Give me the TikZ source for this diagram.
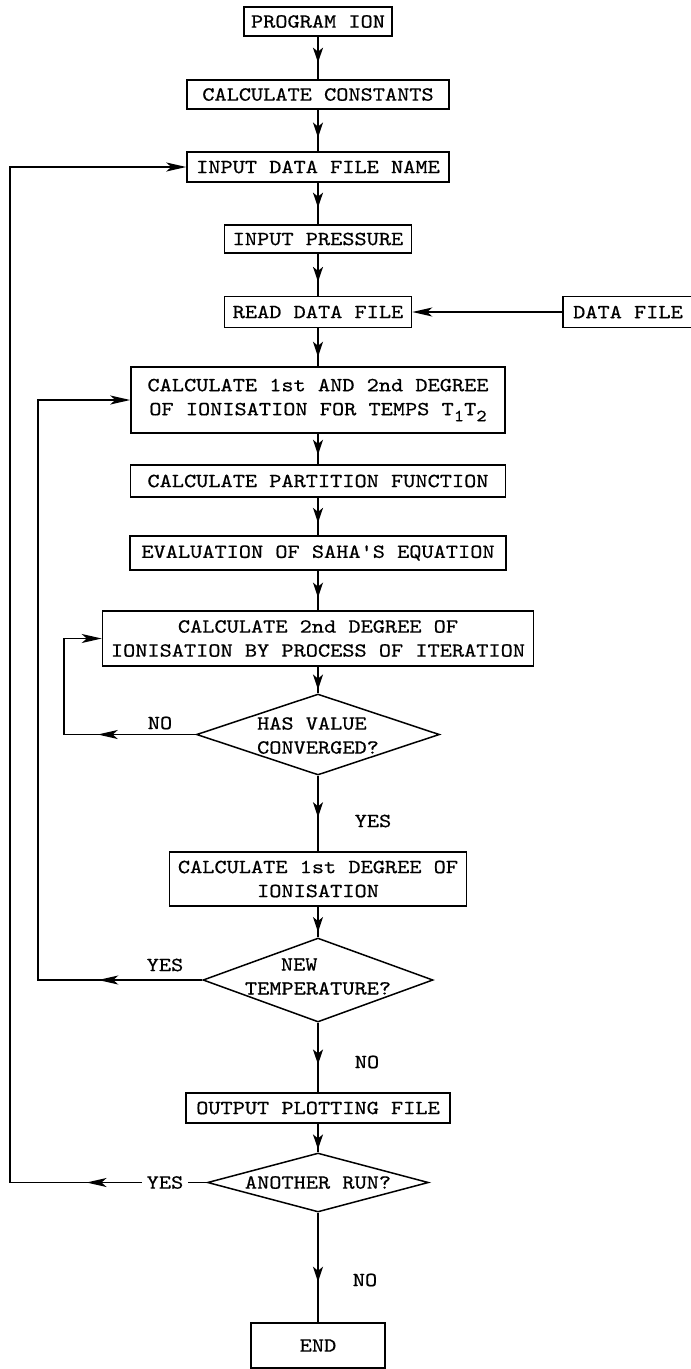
\documentclass[tikz,border=0pt]{standalone}
\usepackage{fontspec}
\newfontfamily\tw{lmmono10-regular.otf}[FakeStretch=1.16, FakeBold=0.6]
\usetikzlibrary{shapes.geometric,arrows.meta,decorations.markings}
\tikzset{
  vhead/.tip={Stealth[length=15pt,width=10pt,inset=4pt]},
  hhead/.tip={Stealth[length=20pt,width=9pt,inset=5pt]},
  every node/.style={font=\tw\fontsize{20}{24}\selectfont},
  box/.style={draw, line width=1.5pt, inner sep=0pt, align=center},
  dia/.style={draw, diamond, line width=1.5pt, inner sep=0pt},
  dtext/.style={inner sep=0pt},
  lbl/.style={inner sep=0pt},
  conn/.style={line width=1.6pt},
  vmid/.style={decoration={markings, mark=at position #1 with {\arrow{vhead}}}, postaction={decorate}},
  hmid/.style={decoration={markings, mark=at position #1 with {\arrow{hhead}}}, postaction={decorate}},
}
\begin{document}
\begin{tikzpicture}[x=1pt,y=-1pt]
\useasboundingbox (0,0) rectangle (691,1369);

% boxes
\node[box, minimum width=148pt, minimum height=29pt] (prog) at (318,21.5) {PROGRAM ION};
\node[box, minimum width=262pt, minimum height=29pt] (const) at (318,94.5) {CALCULATE CONSTANTS};
\node[box, minimum width=262pt, minimum height=30pt] (dfname) at (318,167) {INPUT DATA FILE NAME};
\node[box, minimum width=187pt, minimum height=28pt] (press) at (318,239) {INPUT PRESSURE};
\node[box, minimum width=187pt, minimum height=31pt] (read) at (318,312) {READ DATA FILE};
\node[box, minimum width=130pt, minimum height=31pt] (datafile) at (628,312) {DATA FILE};
\node[box, minimum width=374pt, minimum height=66pt] (calc12) at (318,400)
  {CALCULATE 1st AND 2nd DEGREE\\OF IONISATION FOR TEMPS T\raisebox{-6pt}{\fontsize{17}{17}\selectfont 1}T\raisebox{-6pt}{\fontsize{17}{17}\selectfont 2}};
\node[box, minimum width=375pt, minimum height=32pt] (part) at (318,481) {CALCULATE PARTITION FUNCTION};
\node[box, minimum width=376pt, minimum height=34pt] (saha) at (318,553) {EVALUATION OF SAHA'S EQUATION};
\node[box, minimum width=431pt, minimum height=55pt] (calc2) at (318,638.5)
  {CALCULATE 2nd DEGREE OF\\IONISATION BY PROCESS OF ITERATION};
\node[dia, minimum width=243pt, minimum height=81pt] (conv) at (318,734.5) {};
\node[dtext, align=left] (convt) at (318,735.5) {HAS VALUE\\CONVERGED?};
\node[box, minimum width=297pt, minimum height=54pt] (calc1) at (318,879)
  {CALCULATE 1st DEGREE OF\\IONISATION};
\node[dia, minimum width=230pt, minimum height=84pt] (newtemp) at (318,980) {};
\node[dtext, align=left] (newtempt) at (318,976.5) {\hspace*{36pt}NEW\\TEMPERATURE?};
\node[box, minimum width=264pt, minimum height=30pt] (output) at (318,1108) {OUTPUT PLOTTING FILE};
\node[dia, minimum width=221pt, minimum height=59pt] (another) at (318,1182.5) {};
\node[dtext] (anothert) at (318,1182.5) {ANOTHER RUN?};
\node[box, minimum width=134pt, minimum height=45pt] (endbox) at (318,1345.5) {END};

% labels
\node[lbl] (yes1) at (373,821) {YES};
\node[lbl] (no1) at (160,723) {NO};
\node[lbl] (yes2) at (165,965) {YES};
\node[lbl] (no2) at (367,1062) {NO};
\node[lbl, inner xsep=5pt] (yes3) at (165,1182.5) {YES};
\node[lbl] (no3) at (365,1280) {NO};

% loop corners
\coordinate (o1) at (10,1182.5);
\coordinate (o2) at (38,980);
\coordinate (o3) at (64,734.5);

% main flow
\draw[conn, vmid=0.61] (prog) -- (const);
\draw[conn, vmid=0.67] (const) -- (dfname);
\draw[conn, vmid=0.6] (dfname) -- (press);
\draw[conn, vmid=0.67] (press) -- (read);
\draw[conn, -{hhead}] (datafile) -- (read);
\draw[conn, vmid=0.75] (read) -- (calc12);
\draw[conn, vmid=0.69] (calc12) -- (part);
\draw[conn, vmid=0.67] (part) -- (saha);
\draw[conn, vmid=0.68] (saha) -- (calc2);
\draw[conn, vmid=0.86] (calc2) -- (conv);
\draw[conn, vmid=0.55] (conv) -- (calc1);
\draw[conn, vmid=0.83] (calc1) -- (newtemp);
\draw[conn, vmid=0.6] (newtemp) -- (output);
\draw[conn, vmid=0.9] (output) -- (another);
\draw[conn, vmid=0.63] (another) -- (endbox);

% loops
\draw[conn, hmid=98pt, -{hhead}] (conv.west) -- (o3) |- (calc2.west);
\draw[conn, hmid=104pt, -{hhead}] (newtemp.west) -- (o2) |- (calc12.west);
\draw[conn] (another.west) -- (yes3.east);
\draw[conn, hmid=55pt, -{hhead}] (yes3.west) -- (o1) |- (dfname.west);
\end{tikzpicture}
\end{document}
